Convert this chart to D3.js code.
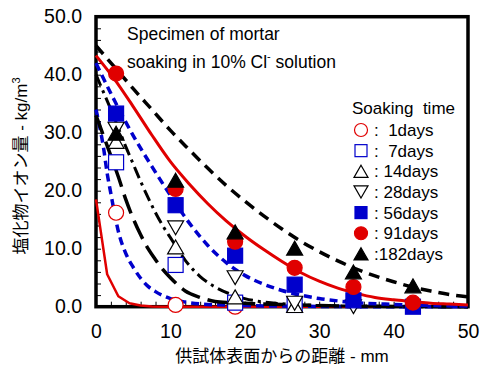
<!DOCTYPE html>
<html><head><meta charset="utf-8">
<script src="https://cdn.jsdelivr.net/npm/d3@7"></script>
<style>
html,body{margin:0;padding:0;background:#fff;}
svg{display:block;font-family:"Liberation Sans",Arial,"Noto Sans CJK JP",sans-serif;}
text{white-space:pre;}
</style></head>
<body>
<svg id="c" width="483" height="367"></svg>
<script>
// ---- data ----
const seriesNames = ["1days","7days","14days","28days","56days","91days","182days"];
const legendLabels = [":  1days", ":  7days", ": 14days", ": 28days", ": 56days", ": 91days", ":182days"];
const xTicksMajor = [0,10,20,30,40,50];
const yTicksMajor = [0,10,20,30,40,50];

// measured points (x in mm, y in kg/m3)
const ptX = [2.7, 10.7, 18.7, 26.7, 34.6, 42.6];
const pts1d   = [16.2, 0.3, 0.0];
const pts7d   = [24.9, 7.2, 0.7, 0.3];
const pts14d  = [28.5, 10.3, 1.7, 0.2];
const pts28d  = [30.6, 13.6, 5.0, 0.6, 0.0];
const pts56d  = [33.3, 17.5, 8.8, 3.8, 1.1, 0.0];
const pts91d  = [40.2, 20.3, 11.2, 6.7, 3.4, 0.7];
const pts182d = [29.9, 21.8, 12.9, 10.1, 6.0, 3.6];

// fitted curves
const cx1d  = [0,1.5,3,4.5,6,7.5,9,12,20,30,40,50];
const cy1d  = [18.5,5.6,1.8,0.6,0.2,0.05,0,0,0,0,0,0];
const cx7d  = [0,0.5,1,1.5,2,2.5,3,4,5,6,7,8,10,12,15,20,25,30,40,50];
const cy7d  = [34,31,27.5,23,19.5,16,13,9.2,6.8,4.9,3.5,2.6,1.4,0.8,0.4,0.2,0.1,0.05,0,0];
const cx14d = [0,1,2,3,4,5,6,7,8,9,10,12,14,16,18,20,22,25,30,40,50];
const cy14d = [33,29.5,26,22.4,18.5,15.2,12.4,10,8.1,6.4,5.0,2.7,1.6,0.9,0.7,0.6,0.5,0.4,0.2,0.05,0];
const cx28d = [0,1,2,3,4,5,6,7,8,9,10,12,14,16,18,20,22,25,30,40,50];
const cy28d = [40,37,34,30.8,27.6,24.6,21.6,18.8,16.2,13.9,11.9,8.0,5.2,3.4,2.2,1.4,0.9,0.5,0.2,0.05,0];
const cx56d = [0,2.5,5,7.5,10,12.5,15,17.5,20,22.5,25,27.5,30,32.5,35,40,45,50];
const cy56d = [42,35.5,29.5,24.2,19.2,14.5,10.6,7.6,5.4,3.9,2.8,2.0,1.4,1.0,0.7,0.4,0.2,0.1];
const cx91d = [0,2.5,5,7.5,10,12.5,15,17.5,20,22.5,25,27.5,30,32.5,35,37.5,40,42.5,45,47.5,50];
const cy91d = [43.3,39.2,34.5,29.6,25.0,21.2,17.8,14.8,12.2,9.9,7.8,5.9,4.4,3.2,2.3,1.6,1.2,0.9,0.6,0.45,0.3];
const cx182d = [0,2.5,5,7.5,10,12.5,15,17.5,20,22.5,25,27.5,30,32.5,35,37.5,40,42.5,45,47.5,50];
const cy182d = [45,41.3,37.6,34.0,30.4,27.1,23.9,20.9,18.2,15.7,13.4,11.3,9.5,7.9,6.5,5.3,4.3,3.4,2.7,2.1,1.7];

const RED = "#e00000", BLUE = "#0000cc", BLACK = "#000";

const series = [
  {name:"1days",  pts:pts1d,  cx:cx1d,  cy:cy1d,  color:RED,   dash:null,        w:2.5, lin:true,  sym:"circle",  fill:"#fff"},
  {name:"7days",  pts:pts7d,  cx:cx7d,  cy:cy7d,  color:BLUE,  dash:"8,5",       w:3.5, sym:"square",  fill:"#fff"},
  {name:"14days", pts:pts14d, cx:cx14d, cy:cy14d, color:BLACK, dash:"20,8",      w:3.5, sym:"tri",     fill:"#fff"},
  {name:"28days", pts:pts28d, cx:cx28d, cy:cy28d, color:BLACK, dash:"12,5,3,5",  w:3,   sym:"tridown", fill:"#fff"},
  {name:"56days", pts:pts56d, cx:cx56d, cy:cy56d, color:BLUE,  dash:"8,5",       w:3.5, sym:"square",  fill:BLUE},
  {name:"91days", pts:pts91d, cx:cx91d, cy:cy91d, color:RED,   dash:null,        w:3,   sym:"circle",  fill:RED},
  {name:"182days",pts:pts182d,cx:cx182d,cy:cy182d,color:BLACK, dash:"11,7",      w:3.5, sym:"tri",     fill:BLACK}
];

// ---- layout ----
const svg = d3.select("#c");
const L = 96, R = 468, T = 16.7, B = 306.7;
const x = d3.scaleLinear().domain([0,50]).range([L,R]);
const y = d3.scaleLinear().domain([0,50]).range([B,T]);

// frame
svg.append("rect").attr("x",L).attr("y",T).attr("width",R-L).attr("height",B-T)
  .attr("fill","none").attr("stroke","#000").attr("stroke-width",3.5);

// minor ticks (inward)
const gxm = svg.append("g").attr("transform",`translate(0,${B})`)
  .call(d3.axisBottom(x).tickValues(d3.range(0,51,2)).tickSize(-5).tickFormat(""));
const gym = svg.append("g").attr("transform",`translate(${L},0)`)
  .call(d3.axisLeft(y).tickValues(d3.range(0,51,2)).tickSize(-5).tickFormat(""));
[gxm,gym].forEach(g=>{g.select(".domain").remove(); g.selectAll("line").attr("stroke","#000").attr("stroke-width",1);});

// labels
const gx = svg.append("g").attr("transform",`translate(0,${B})`)
  .call(d3.axisBottom(x).tickValues(xTicksMajor).tickSize(0).tickPadding(17).tickFormat(d3.format("d")));
const gy = svg.append("g").attr("transform",`translate(${L},0)`)
  .call(d3.axisLeft(y).tickValues(yTicksMajor).tickSize(0).tickPadding(14).tickFormat(d3.format(".1f")));
[gx,gy].forEach(g=>{g.select(".domain").remove();
  g.selectAll("text").attr("font-size",19.5).attr("fill","#000")
   .attr("font-family","'Liberation Sans',Arial,sans-serif");});

// axis titles
svg.append("text").attr("x",282).attr("y",362).attr("text-anchor","middle")
  .attr("font-size",17).text("供試体表面からの距離 - mm");
const yt = svg.append("text").attr("transform","translate(27,166) rotate(-90)")
  .attr("text-anchor","middle").attr("font-size",17);
yt.append("tspan").text("塩化物イオン量 - kg/m");
yt.append("tspan").attr("font-size",11).attr("dy",-7).text("3");

// annotation
svg.append("text").attr("x",127).attr("y",40).attr("font-size",17.5).text("Specimen of mortar");
const an = svg.append("text").attr("x",127).attr("y",68).attr("font-size",17.5);
an.append("tspan").text("soaking in 10% Cl");
an.append("tspan").attr("font-size",11).attr("dy",-8).text("-");
an.append("tspan").attr("dy",8).text(" solution");

// curves
const clip = svg.append("clipPath").attr("id","pc").append("rect")
  .attr("x",L-2).attr("y",T).attr("width",R-L+4).attr("height",B-T+3);
const gc = svg.append("g").attr("clip-path","url(#pc)");
series.forEach(s=>{
  const data = s.cx.map((v,i)=>[v,s.cy[i]]);
  const line = d3.line().x(d=>x(d[0])).y(d=>y(d[1]))
    .curve(s.lin ? d3.curveLinear : d3.curveMonotoneX);
  gc.append("path").attr("d",line(data)).attr("fill","none")
    .attr("stroke",s.color).attr("stroke-width",s.w)
    .attr("stroke-dasharray",s.dash).attr("stroke-linejoin","round");
});

// symbols
function drawSym(g, sym, cx, cy, size, stroke, fill){
  if(sym==="circle"){
    g.append("circle").attr("cx",cx).attr("cy",cy).attr("r",size/2)
      .attr("fill",fill).attr("stroke",stroke).attr("stroke-width",1.2);
  } else if(sym==="square"){
    g.append("rect").attr("x",cx-size/2).attr("y",cy-size/2).attr("width",size).attr("height",size)
      .attr("fill",fill).attr("stroke",stroke).attr("stroke-width",1.2);
  } else {
    const h = size*0.87, w = size/2;
    const p = sym==="tri"
      ? [[cx,cy-h/2],[cx+w,cy+h/2],[cx-w,cy+h/2]]
      : [[cx,cy+h/2],[cx+w,cy-h/2],[cx-w,cy-h/2]];
    g.append("polygon").attr("points",p.map(q=>q.join(",")).join(" "))
      .attr("fill",fill).attr("stroke",stroke).attr("stroke-width",1.2);
  }
}
const gm = svg.append("g");
series.forEach(s=>{
  s.pts.forEach((v,i)=>{
    const sz = s.sym==="circle"?15:(s.sym==="square"?15:16);
    drawSym(gm, s.sym, x(ptX[i]), y(v), sz, s.color, s.fill);
  });
});

// legend
const lg = svg.append("g");
lg.append("text").attr("x",352).attr("y",114).attr("font-size",17).text("Soaking  time");
series.forEach((s,i)=>{
  const cy = 130 + i*20.65;
  const sz = s.sym==="circle"?13:(s.sym==="square"?12:14);
  drawSym(lg, s.sym, 361, cy, sz, s.color, s.fill);
  lg.append("text").attr("x",374).attr("y",cy+6).attr("font-size",17).text(legendLabels[i]);
});
</script>
</body></html>
